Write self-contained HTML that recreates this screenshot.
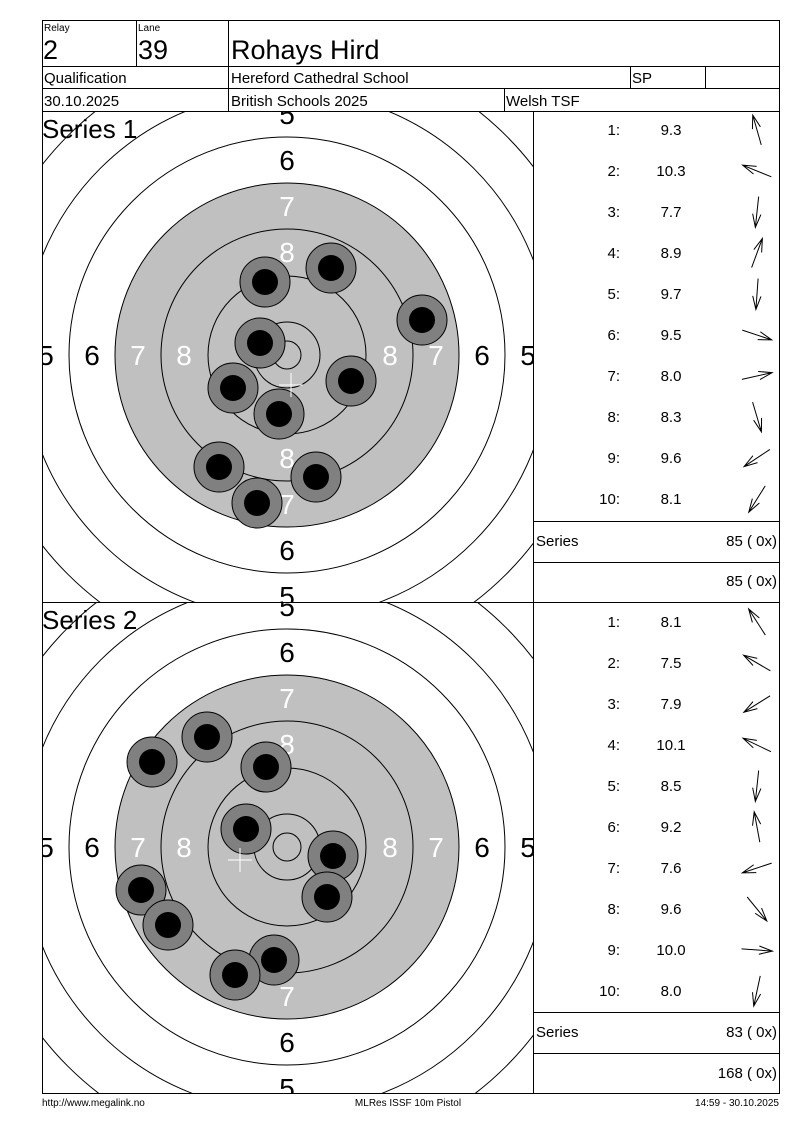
<!DOCTYPE html>
<html><head><meta charset="utf-8"><style>
html,body{margin:0;padding:0;background:#fff;width:800px;height:1130px;overflow:hidden;}
svg{display:block;font-family:"Liberation Sans",Arial,sans-serif;}
</style></head><body>
<svg id="s" width="800" height="1130" viewBox="0 0 800 1130" xmlns="http://www.w3.org/2000/svg">
<defs>
<clipPath id="c1"><rect x="42" y="111" width="491" height="491"/></clipPath>
<clipPath id="c2"><rect x="42" y="602" width="491" height="491"/></clipPath>
</defs>
<rect width="800" height="1130" fill="#fff"/>
<g id="t1" clip-path="url(#c1)"></g>
<g id="t2" clip-path="url(#c2)"></g>
<g id="arr" stroke="#000" stroke-width="1" fill="none"></g>
<g stroke="#000" stroke-width="1" fill="none">
<rect x="42.5" y="20.5" width="737" height="1073"/>
<line x1="42" y1="66.5" x2="780" y2="66.5"/>
<line x1="42" y1="88.5" x2="780" y2="88.5"/>
<line x1="42" y1="111.5" x2="780" y2="111.5"/>
<line x1="136.5" y1="20" x2="136.5" y2="66"/>
<line x1="228.5" y1="20" x2="228.5" y2="111"/>
<line x1="630.5" y1="66" x2="630.5" y2="88"/>
<line x1="705.5" y1="66" x2="705.5" y2="88"/>
<line x1="504.5" y1="88" x2="504.5" y2="111"/>
<line x1="533.5" y1="111" x2="533.5" y2="1093"/>
<line x1="42" y1="602.5" x2="780" y2="602.5"/>
<line x1="533" y1="521.5" x2="780" y2="521.5"/>
<line x1="533" y1="562.5" x2="780" y2="562.5"/>
<line x1="533" y1="1012.5" x2="780" y2="1012.5"/>
<line x1="533" y1="1053.5" x2="780" y2="1053.5"/>
</g>
<g fill="#000">
<text x="44" y="31" font-size="10">Relay</text>
<text x="138" y="31" font-size="10">Lane</text>
<text x="43" y="59" font-size="27">2</text>
<text x="138" y="59" font-size="27">39</text>
<text x="231" y="59" font-size="27">Rohays Hird</text>
<text x="44" y="83" font-size="15">Qualification</text>
<text x="231" y="83" font-size="15">Hereford Cathedral School</text>
<text x="632" y="83" font-size="15">SP</text>
<text x="44" y="106" font-size="15">30.10.2025</text>
<text x="231" y="106" font-size="15">British Schools 2025</text>
<text x="506" y="106" font-size="15">Welsh TSF</text>
<text x="42" y="138" font-size="26">Series 1</text>
<text x="42" y="629" font-size="26">Series 2</text>
</g>
<g font-size="15" fill="#000">
<g text-anchor="end">
<text x="620" y="135">1:</text><text x="620" y="176">2:</text><text x="620" y="217">3:</text><text x="620" y="258">4:</text><text x="620" y="299">5:</text><text x="620" y="340">6:</text><text x="620" y="381">7:</text><text x="620" y="422">8:</text><text x="620" y="463">9:</text><text x="620" y="504">10:</text>
<text x="620" y="627">1:</text><text x="620" y="668">2:</text><text x="620" y="709">3:</text><text x="620" y="750">4:</text><text x="620" y="791">5:</text><text x="620" y="832">6:</text><text x="620" y="873">7:</text><text x="620" y="914">8:</text><text x="620" y="955">9:</text><text x="620" y="996">10:</text>
<text x="777" y="546">85 ( 0x)</text><text x="777" y="586">85 ( 0x)</text>
<text x="777" y="1037">83 ( 0x)</text><text x="777" y="1078">168 ( 0x)</text>
</g>
<g text-anchor="middle">
<text x="671" y="135">9.3</text><text x="671" y="176">10.3</text><text x="671" y="217">7.7</text><text x="671" y="258">8.9</text><text x="671" y="299">9.7</text><text x="671" y="340">9.5</text><text x="671" y="381">8.0</text><text x="671" y="422">8.3</text><text x="671" y="463">9.6</text><text x="671" y="504">8.1</text>
<text x="671" y="627">8.1</text><text x="671" y="668">7.5</text><text x="671" y="709">7.9</text><text x="671" y="750">10.1</text><text x="671" y="791">8.5</text><text x="671" y="832">9.2</text><text x="671" y="873">7.6</text><text x="671" y="914">9.6</text><text x="671" y="955">10.0</text><text x="671" y="996">8.0</text>
</g>
<text x="536" y="546">Series</text>
<text x="536" y="1037">Series</text>
</g>
<g font-size="10" fill="#000">
<text x="42" y="1106">http://www.megalink.no</text>
<text x="408" y="1106" text-anchor="middle">MLRes ISSF 10m Pistol</text>
<text x="779" y="1106" text-anchor="end">14:59 - 30.10.2025</text>
</g>
</svg>
<script>
var NS="http://www.w3.org/2000/svg";
function el(p,n,a,t){var e=document.createElementNS(NS,n);for(var k in a)e.setAttribute(k,a[k]);if(t)e.textContent=t;p.appendChild(e);return e;}
function target(id,cx,cy,shots,cross){
 var g=document.getElementById(id);
 el(g,'circle',{cx:cx,cy:cy,r:172,fill:'#c0c0c0'});
 [33,79,126,172,218,264,310,356,402].forEach(function(r){el(g,'circle',{cx:cx,cy:cy,r:r,fill:'none',stroke:'#000','stroke-width':1});});
 el(g,'circle',{cx:cx,cy:cy,r:14,fill:'none',stroke:'#000','stroke-width':1});
 var labs=[[5,241,'#000'],[6,195,'#000'],[7,149,'#fff'],[8,103,'#fff']];
 labs.forEach(function(l){
  [[-1,0],[1,0],[0,-1],[0,1]].forEach(function(d){
   el(g,'text',{x:cx+d[0]*l[1],y:cy+d[1]*l[1]+10,'font-size':28,'text-anchor':'middle',fill:l[2],'font-family':'Liberation Sans, sans-serif'},String(l[0]));
  });
 });
 shots.forEach(function(s){el(g,'circle',{cx:s[0],cy:s[1],r:25,fill:'#808080',stroke:'#000','stroke-width':1});});
 shots.forEach(function(s){el(g,'circle',{cx:s[0],cy:s[1],r:13,fill:'#000'});});
 el(g,'path',{d:'M'+(cross[0]-12)+' '+cross[1]+'h24M'+cross[0]+' '+(cross[1]-12)+'v24',stroke:'#fff','stroke-width':1});
}
target('t1',287,355,[[265,282],[331,268],[422,320],[260,343],[351,381],[233,388],[279,414],[219,467],[316,477],[257,503]],[291,385]);
target('t2',287,847,[[207,737],[152,762],[266,767],[246,829],[333,856],[141,890],[327,897],[168,925],[274,960],[235,975]],[240,860]);
var a=document.getElementById('arr');
function arrow(cx,cy,dx,dy){
 var L=Math.sqrt(dx*dx+dy*dy),ux=dx/L,uy=dy/L,h=14;
 dx=ux*31;dy=uy*31;
 var x1=cx-dx/2,y1=cy-dy/2,x2=cx+dx/2,y2=cy+dy/2;
 var ang=0.3;
 function rot(t){return [-(ux*Math.cos(t)-uy*Math.sin(t))*h,-(ux*Math.sin(t)+uy*Math.cos(t))*h];}
 var r1=rot(ang),r2=rot(-ang);
 el(a,'path',{d:'M'+x1+' '+y1+'L'+x2+' '+y2+'M'+(x2+r1[0])+' '+(y2+r1[1])+'L'+x2+' '+y2+'L'+(x2+r2[0])+' '+(y2+r2[1])});
}
var d1=[[-8,-28],[-27,-11],[-3,28],[10,-27],[-2,28],[27,9],[27,-6],[8,27],[-24,16],[-15,24]];
var d2=[[-16,-25],[-24,-14],[-24,15],[-25,-12],[-3,28],[-5,-27],[-27,9],[18,22],[28,2],[-6,28]];
d1.forEach(function(d,i){arrow(757,130+41*i,d[0],d[1]);});
d2.forEach(function(d,i){arrow(757,622+41*i,d[0],d[1]);});
</script>
</body></html>
